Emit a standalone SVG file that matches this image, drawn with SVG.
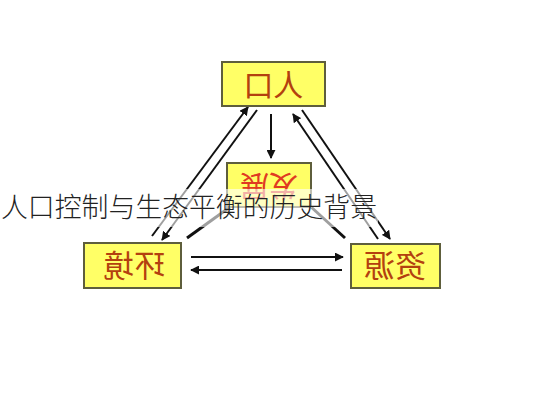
<svg xmlns="http://www.w3.org/2000/svg" width="533" height="400" viewBox="0 0 533 400">
<defs>
<marker id="ah" viewBox="0 0 10 10" refX="9" refY="5" markerWidth="4.5" markerHeight="4.5" orient="auto" markerUnits="strokeWidth">
<path d="M0,0 L10,5 L0,10 z" fill="#111"/>
</marker>
<style>
.box{fill:#ffff66;stroke:#5e5e3c;stroke-width:2}
.lbl{font-family:"Noto Sans CJK SC","Noto Sans",sans-serif;font-weight:400;fill:#b3400f;text-anchor:middle}
.ln{stroke:#111;stroke-width:2;fill:none}
.arr{marker-end:url(#ah)}
.thick{stroke:#111;stroke-width:3;fill:none}
</style>
</defs>
<rect width="533" height="400" fill="#fff"/>
<g id="connectors">
<line class="ln arr" x1="271" y1="114" x2="271" y2="158"/>
<line class="ln arr" x1="152" y1="236" x2="248" y2="107"/>
<line class="ln arr" x1="257" y1="110" x2="162" y2="240"/>
<line class="ln arr" x1="378" y1="239" x2="293" y2="114"/>
<line class="ln arr" x1="302" y1="110" x2="390" y2="239"/>
<line class="ln arr" x1="191" y1="257" x2="343" y2="257"/>
<line class="ln arr" x1="342" y1="270" x2="191" y2="270"/>
<line class="thick" x1="230" y1="207" x2="187" y2="238"/>
<line class="thick" x1="310" y1="206" x2="345" y2="238"/>
</g>
<g id="renkou">
<rect class="box" x="222" y="62" width="103" height="44"/>
<text class="lbl" font-size="30" transform="translate(273.5,96) scale(-1,1)">人口</text>
</g>
<g id="fazhan">
<rect class="box" x="227" y="163" width="84" height="44"/>
<text class="lbl" font-size="29" style="fill:#e03a22" transform="translate(269,175) rotate(180)">发展</text>
</g>
<g id="huanjing">
<rect class="box" x="84" y="243" width="97" height="45"/>
<text class="lbl" font-size="31" transform="translate(134,277) scale(-1,1)">环境</text>
</g>
<g id="ziyuan">
<rect class="box" x="351" y="244" width="89" height="44"/>
<text class="lbl" font-size="31" transform="translate(395,277) scale(-1,1)">资源</text>
</g>
<g id="overlay">
<rect x="0" y="189" width="378" height="38" fill="#fff" fill-opacity="0.6"/>
<text x="1" y="217" font-family="Noto Sans CJK SC, sans-serif" font-size="27" font-weight="300" fill="#222" textLength="376" lengthAdjust="spacingAndGlyphs">人口控制与生态平衡的历史背景</text>
</g>
</svg>
